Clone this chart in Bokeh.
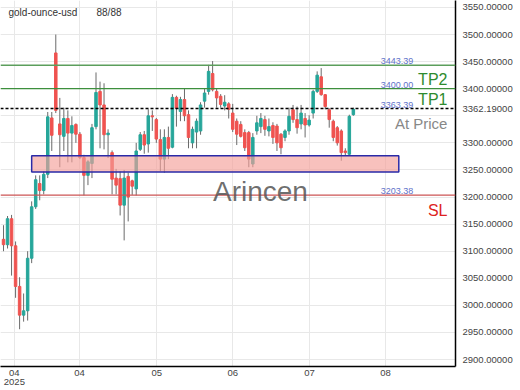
from bokeh.plotting import figure
from bokeh.models import (ColumnDataSource, Span, Label, BoxAnnotation, FixedTicker,
                          NumeralTickFormatter, Range1d)
from bokeh.embed import file_html
from bokeh.resources import INLINE

# ---------------- data ----------------
symbol = "gold-ounce-usd"
counter = "88/88"

opens = [3122, 3112, 3160, 3110, 3035, 2982, 2990, 3087, 3182, 3225,
         3212, 3242, 3346, 3466, 3335, 3312, 3345, 3318, 3334, 3316,
         3273, 3240, 3262, 3330, 3395, 3370, 3315, 3282, 3235, 3234,
         3185, 3238, 3230, 3215, 3288, 3315, 3298, 3350, 3343, 3306,
         3270, 3310, 3292, 3384, 3358, 3380, 3352, 3300, 3320, 3322,
         3377, 3395, 3428, 3395, 3386, 3368, 3372, 3355, 3340, 3334,
         3319, 3319, 3261, 3322, 3330, 3343, 3322, 3332, 3331, 3316,
         3310, 3322, 3361, 3343, 3335, 3345, 3333, 3355, 3395, 3422,
         3389, 3361, 3340, 3328, 3322, 3285, 3279, 3352]
highs = [3148, 3165, 3167, 3118, 3052, 3022, 3100, 3192, 3240, 3240,
         3248, 3357, 3357, 3500, 3383, 3365, 3360, 3349, 3336, 3320,
         3278, 3268, 3335, 3430, 3413, 3410, 3325, 3286, 3252, 3248,
         3250, 3245, 3232, 3300, 3320, 3322, 3362, 3360, 3346, 3325,
         3325, 3330, 3390, 3387, 3385, 3400, 3360, 3330, 3345, 3375,
         3400, 3444, 3451, 3400, 3390, 3388, 3375, 3372, 3345, 3340,
         3325, 3322, 3318, 3350, 3355, 3350, 3345, 3338, 3335, 3318,
         3325, 3365, 3370, 3367, 3370, 3355, 3351, 3398, 3432, 3438,
         3390, 3364, 3343, 3331, 3325, 3290, 3352, 3365]
lows = [3100, 3105, 3055, 3014, 2956, 2970, 2972, 3078, 3178, 3194,
        3205, 3235, 3285, 3355, 3255, 3285, 3264, 3264, 3300, 3270,
        3203, 3222, 3235, 3325, 3290, 3288, 3272, 3205, 3205, 3166,
        3120, 3155, 3204, 3203, 3285, 3280, 3282, 3322, 3300, 3248,
        3245, 3270, 3290, 3330, 3340, 3340, 3290, 3290, 3290, 3315,
        3365, 3389, 3395, 3365, 3365, 3360, 3345, 3320, 3296, 3310,
        3285, 3255, 3255, 3315, 3318, 3313, 3312, 3298, 3285, 3279,
        3303, 3315, 3337, 3317, 3325, 3310, 3330, 3345, 3392, 3387,
        3362, 3328, 3303, 3295, 3267, 3277, 3276, 3350]
closes = [3112, 3160, 3110, 3035, 2982, 2990, 3087, 3182, 3232, 3212,
          3242, 3348, 3314, 3360, 3315, 3345, 3318, 3332, 3316, 3273,
          3240, 3265, 3328, 3393, 3370, 3315, 3318, 3233, 3222, 3185,
          3235, 3200, 3220, 3285, 3315, 3296, 3350, 3348, 3307, 3270,
          3310, 3290, 3384, 3364, 3380, 3350, 3310, 3325, 3340, 3370,
          3392, 3432, 3398, 3383, 3371, 3375, 3362, 3325, 3316, 3312,
          3291, 3270, 3310, 3337, 3345, 3325, 3330, 3310, 3300, 3291,
          3322, 3349, 3343, 3328, 3355, 3333, 3342, 3395, 3425, 3389,
          3367, 3343, 3310, 3300, 3282, 3282, 3349, 3362.19]

x_tick_pos = [2.7, 18.9, 38.1, 57.0, 76.1, 95.0]
x_tick_labels = ["04\n2025", "04", "05", "06", "07", "08"]
y_ticks = [2900, 2950, 3000, 3050, 3100, 3150, 3200, 3250, 3300, 3350,
           3400, 3450, 3500, 3550]

tp2_high = 3443.39
tp2 = 3400.00
tp1 = 3363.39
sl = 3203.38
last_price = 3362.19
zone_low, zone_high = 3246, 3276
zone_start, zone_end = 7.0, 98.3

# ---------------- styling ----------------
FONT = "Liberation Sans"
UP = "#26a69a"
DOWN = "#ef5350"

idx = list(range(len(opens)))
colors = [UP if c >= o else DOWN for o, c in zip(opens, closes)]
src = ColumnDataSource(dict(x=idx, open=opens, high=highs, low=lows, close=closes,
                            top=[max(o, c) for o, c in zip(opens, closes)],
                            bottom=[min(o, c) for o, c in zip(opens, closes)],
                            color=colors))

X0, X1 = -0.75, 112.4
Y0, Y1 = 2887.2, 3562.8

p = figure(width=520, height=390, output_backend="svg", toolbar_location=None,
           title=None,
           x_range=Range1d(X0, X1), y_range=Range1d(Y0, Y1),
           y_axis_location="right", min_border_left=0, min_border_top=0,
           min_border_right=65, min_border_bottom=21,
           outline_line_color=None, background_fill_color="white")

p.grid.grid_line_color = "#e8e8e8"
p.xgrid.ticker = FixedTicker(ticks=x_tick_pos)
p.ygrid.ticker = FixedTicker(ticks=y_ticks)

xa = p.xaxis[0]
xa.ticker = FixedTicker(ticks=x_tick_pos)
xa.major_label_overrides = {t: l for t, l in zip(x_tick_pos, x_tick_labels)}
xa.major_label_text_font = FONT
xa.major_label_text_font_size = "9.5px"
xa.major_label_text_color = "#444444"
xa.major_label_text_line_height = 0.9
xa.major_label_standoff = 0
xa.major_tick_out = 0
xa.major_tick_in = 0
xa.minor_tick_out = 0
xa.minor_tick_in = 0
xa.axis_line_color = "black"
xa.axis_line_width = 1.5

# y axis: the last price replaces the 3350 label it covers in the original
axis_ticks = sorted([t for t in y_ticks if abs(t - last_price) > 20] + [last_price])
ya = p.yaxis[0]
ya.ticker = FixedTicker(ticks=axis_ticks)
ya.formatter = NumeralTickFormatter(format="0.00000")
ya.major_label_text_font = FONT
ya.major_label_text_font_size = "9.5px"
ya.major_label_text_color = "#444444"
ya.major_label_standoff = 7
ya.major_tick_out = 0
ya.major_tick_in = 0
ya.minor_tick_out = 0
ya.minor_tick_in = 0
ya.axis_line_color = "black"
ya.axis_line_width = 1.5

# candles
p.segment(x0="x", y0="high", x1="x", y1="low", source=src, color="#6a6a6a", line_width=1)
p.vbar(x="x", width=0.62, top="top", bottom="bottom", source=src,
       fill_color="color", line_color="color")

# zone
p.add_layout(BoxAnnotation(left=zone_start, right=zone_end, bottom=zone_low, top=zone_high,
                           fill_color="#f4a09a", fill_alpha=0.65,
                           line_color="#2a2aa8", line_width=1.5, line_alpha=1))

# level lines
p.add_layout(Span(location=tp2_high, dimension="width", line_color="#5c9e5c", line_width=1.5))
p.add_layout(Span(location=tp2, dimension="width", line_color="#3d8f3d", line_width=1.2))
p.add_layout(Span(location=tp1, dimension="width", line_color="black", line_width=1.5,
                  line_dash="3 2"))
p.add_layout(Span(location=sl, dimension="width", line_color="#cc5555", line_width=1.2))

lvl_x = 93.8
right_x = 110.4
for lv in [tp2_high, tp2, tp1, sl]:
    p.add_layout(Label(x=lvl_x, y=lv, text=f"{lv:.2f}", text_font=FONT,
                       text_font_size="9px", text_color="#5f72c9",
                       text_baseline="bottom", y_offset=1))

p.add_layout(Label(x=right_x, y=tp2, text="TP2", text_font=FONT, text_font_size="16px",
                   text_color="#2e8b2e", text_align="right", text_baseline="bottom", y_offset=1))
p.add_layout(Label(x=right_x, y=tp1, text="TP1", text_font=FONT, text_font_size="16px",
                   text_color="#2e8b2e", text_align="right", text_baseline="bottom", y_offset=1))
p.add_layout(Label(x=right_x, y=tp1, text="At Price", text_font=FONT, text_font_size="15px",
                   text_color="#888888", text_align="right", text_baseline="top", y_offset=-6))
p.add_layout(Label(x=right_x, y=sl, text="SL", text_font=FONT, text_font_size="16px",
                   text_color="#dd2222", text_align="right", text_baseline="top", y_offset=-7))

# watermark
p.add_layout(Label(x=63.9, y=3210, text="Arincen", text_font=FONT, text_font_size="28px",
                   text_color="#555555", text_alpha=0.85, text_align="center",
                   text_baseline="middle"))

# header
p.add_layout(Label(x=X0, y=Y1, x_offset=8, y_offset=-6, text=symbol,
                   text_font=FONT, text_font_size="10px", text_color="#333333",
                   text_baseline="top"))
p.add_layout(Label(x=X0, y=Y1, x_offset=96, y_offset=-6, text=counter,
                   text_font=FONT, text_font_size="10px", text_color="#333333",
                   text_baseline="top"))

open("out.html", "w").write(file_html(p, INLINE))
